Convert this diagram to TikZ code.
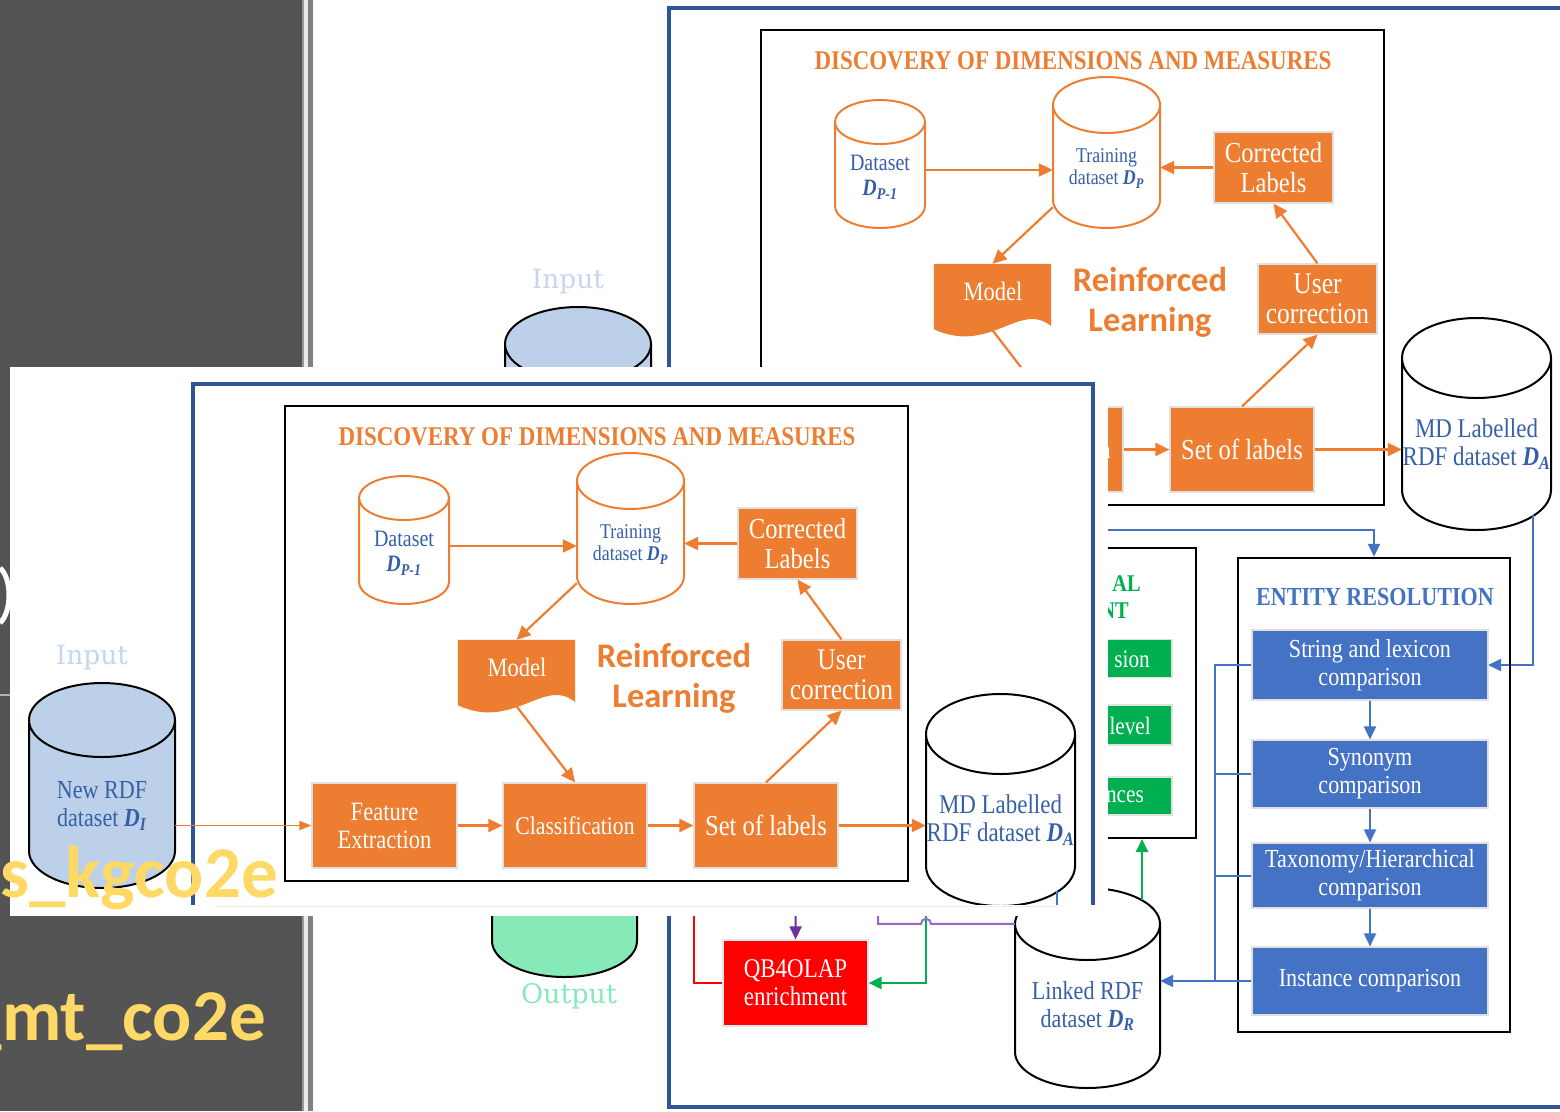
\documentclass[tikz,border=0pt]{standalone}
\usepackage{fontspec}
\setmainfont{Liberation Serif}
\newfontfamily\figfont[FakeStretch=0.85]{Liberation Serif}
\newfontfamily\rlfont{Carlito}
\newfontfamily\lblfont{DejaVu Serif}
\usepackage{tikz}
\usetikzlibrary{arrows.meta, positioning, calc}

\definecolor{rlorange}{HTML}{ED7D31}
\definecolor{erblue}{HTML}{4472C4}
\definecolor{framblue}{HTML}{2F5597}
\definecolor{cyltext}{HTML}{3560A8}
\definecolor{enrgreen}{HTML}{00B050}
\definecolor{qbred}{HTML}{FF0000}
\definecolor{olappurple}{HTML}{7030A0}
\definecolor{hoppurple}{HTML}{9966CC}
\definecolor{infill}{HTML}{BDD0E9}
\definecolor{intext}{HTML}{C6D6EC}
\definecolor{outfill}{HTML}{86E9B8}
\definecolor{slidegray}{HTML}{545454}
\definecolor{tagyellow}{HTML}{FFD966}

\newcommand\fsz[2]{\fontsize{#1}{#2}\selectfont}
% cylinder outline: style, x1, ytop, x2, ybot, ry
\newcommand\dbcyl[6]{%
  \path[#1] (#2,#3+#6) -- (#2,#5-#6)
    arc[start angle=180,end angle=0,x radius={(#4-#2)/2},y radius=#6]
    -- (#4,#3+#6)
    arc[start angle=0,end angle=-180,x radius={(#4-#2)/2},y radius=#6] -- cycle
    (#2,#3+#6) arc[start angle=180,end angle=0,x radius={(#4-#2)/2},y radius=#6];}
\newcommand\dmd[1]{\textbf{\textit{D}}\textsubscript{\textbf{\textit{#1}}}}
% texts that only the window on top shows
\newif\ifinwindow
\newcommand\winonly[1]{\ifinwindow#1\fi}

% upper half of the figure (page behind and window on top)
\newcommand\rltop{%
% Rahmen
\node[grpframe, draw=framblue, line width=4pt, minimum width=900, minimum height=1099] (outer) at (1119,557.5) {};
% Discovery
\node[grpframe, minimum width=623, minimum height=475] (disc) at (1072.5,267.5) {};
\node[text=rlorange, font=\figfont\bfseries\fsz{27}{30}] (disctitle) at (1073,61) {DISCOVERY OF DIMENSIONS AND MEASURES};
\dbcyl{draw=rlorange, fill=white, line width=2pt}{835}{100}{925}{228}{22}
\node[cylbody, minimum width=90, minimum height=106, font=\figfont\fsz{23.5}{25}] (dset) at (880,177) {Dataset\\\dmd{P-1}};
\dbcyl{draw=rlorange, fill=white, line width=2pt}{1053}{77}{1160}{228}{28}
\node[cylbody, minimum width=107, minimum height=123, font=\figfont\fsz{21}{22}] (train) at (1106.5,168.5) {Training\\dataset \dmd{P}};
\node[obox, minimum width=119, minimum height=71, font=\figfont\fsz{29}{30}] (corr) at (1273.5,167.5) {Corrected\\Labels};
\node[obox, minimum width=119, minimum height=70, font=\figfont\fsz{30}{30}] (user) at (1317.5,299) {User\\correction};
\node[inner sep=0pt, minimum width=117, minimum height=71] (model) at (992.5,299.5) {};
\fill[rlorange] (model.north west) -- (model.north east) -- ($(model.south east)+(0,-9)$)
  .. controls ($(model.south east)+(-31,-35)$) and ($(model.south west)+(56,20)$) .. ($(model.south west)+(0,-6)$) -- cycle;
\node[text=white, font=\figfont\fsz{26.5}{28}] (modellbl) at (993,291) {Model};
\node[text=rlorange, font=\rlfont\bfseries\fsz{34.5}{36}] (rein) at (1150,280) {Reinforced};
\node[text=rlorange, font=\rlfont\bfseries\fsz{34.5}{36}] (learn) at (1150,322) {Learning};
\node[obox, minimum width=145, minimum height=85, font=\figfont\fsz{26.5}{28}] (fext) at (860.5,449.5) {\winonly{Feature\\Extraction}};
\node[obox, minimum width=144, minimum height=85, font=\figfont\fsz{25.5}{28}] (clsf) at (1051,449.5) {Classification};
\node[obox, minimum width=144, minimum height=85, font=\figfont\fsz{29}{30}] (sol) at (1242,449.5) {Set of labels};
\dbcyl{draw=black, fill=white, line width=2pt}{1402}{318}{1551}{530}{40}
\node[cylbody, minimum width=149, minimum height=172, font=\figfont\fsz{27}{28}] (md) at (1476.5,444) {MD Labelled\\RDF dataset \dmd{A}};
% Input
\node[text=intext, font=\lblfont\fsz{26.5}{28}] (inlbl) at (568,282) {Input};
\dbcyl{draw=black, fill=infill, line width=2pt}{505}{307}{651}{512}{37}
\node[cylbody, minimum width=146, minimum height=168, font=\figfont\fsz{26}{28}] (nrdf) at (578,430) {\winonly{New RDF\\dataset \dmd{I}}};
% Pfeile
\draw[oarrow, line width=1.5pt, -{Triangle[length=12pt,width=9pt]}] (nrdf.east |- fext.west) -- (fext.west);
\draw[oarrow] ($(dset.east)+(0,-7)$) -- ($(train.west)+(0,1.5)$);
\draw[oarrow] (corr.west) -- (train.east |- corr.west);
\draw[oarrow] ($(train.south west)+(0,-23)$) -- (model.north);
\draw[oarrow] (user.north) -- (corr.south);
\draw[oarrow] ($(model.south)+(0,-5)$) -- (clsf.north);
\draw[oarrow] (sol.north) -- (user.south);
\draw[oarrow] (fext) -- (clsf);
\draw[oarrow] (clsf) -- (sol);
\draw[oarrow] (sol.east) -- (md.west |- sol.east);
\draw[barrow] ($(md.south east)+(-18,-15)$) |- (1488,665);
}

% lower half, only on the page behind
\newcommand\rlbottom{%
% Enrichment
\node[grpframe, minimum width=196, minimum height=290] (enr) at (1098,693) {};
\node[anchor=east, inner sep=0pt, text=enrgreen, font=\figfont\bfseries\fsz{24}{26}] (enrt1) at (1141,584) {AL};
\node[anchor=east, inner sep=0pt, text=enrgreen, font=\figfont\bfseries\fsz{24}{26}] (enrt2) at (1129,611) {NT};
\node[gbox, minimum height=38] (gdim) at (1111,658.5) {};
\node[gtext] (gdimt) at (1150,659) {sion};
\node[gbox, minimum height=40] (glev) at (1111,725) {};
\node[gtext] (glevt) at (1151,726) {level};
\node[gbox, minimum height=38] (ginst) at (1111,796) {};
\node[gtext] (ginstt) at (1144,797) {nces};
% Output
\dbcyl{draw=black, fill=outfill, line width=2pt}{492}{772}{637}{977}{36}
\node[cylbody, minimum width=145, minimum height=169] (outp) at (564.5,892.5) {};
\node[text=outfill, font=\lblfont\fsz{27}{28}] (outlbl) at (569,996) {Output};
% QB4OLAP
\node[rectangle, fill=qbred, draw=black!10, line width=1.2pt, text=white, align=center, inner sep=0pt,
  minimum width=145, minimum height=86, font=\figfont\fsz{27}{28}] (qb) at (795.5,983) {QB4OLAP\\enrichment};
% Linked RDF
\dbcyl{draw=black, fill=white, line width=2pt}{1015}{888}{1160}{1088}{36}
\node[cylbody, minimum width=145, minimum height=164, font=\figfont\fsz{26}{28}] (linked) at (1087.5,1006) {Linked RDF\\dataset \dmd{R}};
% Entity resolution
\node[grpframe, line width=2.5pt, minimum width=272, minimum height=474] (er) at (1374,795) {};
\node[text=erblue, font=\figfont\bfseries\fsz{26}{28}] (ertitle) at (1375,597) {ENTITY RESOLUTION};
\node[bbox, minimum height=70] (str) at (1370,665) {String and lexicon\\comparison};
\node[bbox, minimum height=68] (syn) at (1370,774) {Synonym\\comparison};
\node[bbox, minimum height=65] (tax) at (1370,875.5) {Taxonomy/Hierarchical\\comparison};
\node[bbox, minimum height=68] (inst) at (1370,981) {Instance comparison};
\draw[barrow] (str) -- (syn);
\draw[barrow] (syn) -- (tax);
\draw[barrow] (tax) -- (inst);
\coordinate (brk) at (1215,981);
\draw[bline] (str.west) -| (brk);
\draw[bline] (syn.west) -- (syn.west -| brk);
\draw[bline] (tax.west) -- (tax.west -| brk);
\draw[barrow] (inst.west) -- (linked.east |- inst.west);
\coordinate (erin) at (1000,530);
\draw[barrow] (erin) -| (er.north);
% green, purple, red
\coordinate (gup) at (1142,900);
\draw[garrow] (gup) -- (gup |- enr.south);
\coordinate (gdn) at (926,880);
\draw[garrow] (gdn) |- (qb.east);
\coordinate (pdn) at (796,880);
\draw[parrow] (pdn) -- (qb.north);
\coordinate (phop) at (878,880);
\draw[hoppurple, line width=2pt] (phop) |- ($(gdn |- linked.north west)+(-5,0)$)
  arc[start angle=180,end angle=360,radius=5] -- (linked.north west);
\coordinate (rdn) at (694,880);
\draw[qbred, line width=1.6pt] (rdn) |- (qb.west);
}

\begin{document}
\begin{tikzpicture}[
    x=1pt, y=-1pt,
    grpframe/.style={rectangle, draw=black, line width=2pt, inner sep=0pt},
    obox/.style={rectangle, fill=rlorange, draw=black!12, line width=1.2pt, text=white, align=center, inner sep=0pt},
    bbox/.style={rectangle, fill=erblue, draw=black!12, line width=1.2pt, text=white, align=center, inner sep=0pt, minimum width=236, font=\figfont\fsz{26}{28}},
    gbox/.style={rectangle, fill=enrgreen, draw=black!12, line width=1.2pt, minimum width=122, inner sep=0pt},
    gtext/.style={anchor=east, inner sep=0pt, text=white, font=\figfont\fsz{25}{26}},
    cylbody/.style={rectangle, inner sep=0pt, align=center, text=cyltext},
    oarrow/.style={rlorange, line width=2.2pt, -{Triangle[length=14pt,width=13pt]}},
    barrow/.style={erblue, line width=2pt, -{Triangle[length=13pt,width=12pt]}},
    bline/.style={erblue, line width=2pt},
    garrow/.style={enrgreen, line width=2.2pt, -{Triangle[length=13pt,width=12pt]}},
    parrow/.style={olappurple, line width=2pt, -{Triangle[length=13pt,width=12pt]}}
]
\useasboundingbox (0,0) rectangle (1560,1111);

% slide behind
\fill[slidegray] (0,0) rectangle (301.5,1111);
\fill[black!40] (301.5,0) rectangle (303.5,1111);
\fill[black!8] (303.5,0) rectangle (307.5,1111);
\fill[black!50] (307.5,0) rectangle (313,1111);
\draw[white, line width=5pt] (0,568) .. controls (12,578) and (12,612) .. (0,623);
\draw[black!30, line width=2.5pt] (0,695) -- (10,695);

% page behind
\fill[white] (313,0) rectangle (1560,1111);
\inwindowfalse
\rltop
\rlbottom

% window on top
\fill[white] (10,367) rectangle (1108,916);
\begin{scope}
  \clip (10,367) rectangle (1108,904);
  \begin{scope}[shift={(-476,376)}]
    \inwindowtrue
    \rltop
  \end{scope}
\end{scope}
\draw[black!8, line width=1pt] (215,906) -- (1058,906);

% tags
\node[anchor=base east, inner sep=0pt, text=tagyellow, font=\rlfont\bfseries\fsz{73}{80}] (tagkg) at (278,897) {ns\_kgco2e};
\node[anchor=base east, inner sep=0pt, text=tagyellow, font=\rlfont\bfseries\fsz{73}{80}] (tagmt) at (266,1040) {\_mt\_co2e};

\end{tikzpicture}
\end{document}
